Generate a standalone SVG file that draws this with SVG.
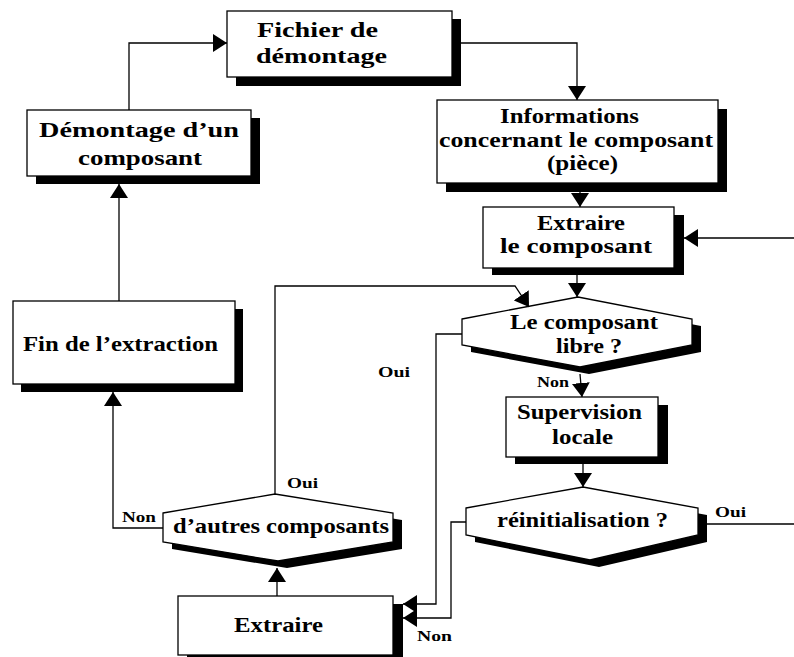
<svg xmlns="http://www.w3.org/2000/svg" width="794" height="657" viewBox="0 0 794 657">
<defs>
<marker id="arr" markerUnits="userSpaceOnUse" markerWidth="15" markerHeight="18" refX="14" refY="9" orient="auto" viewBox="0 0 15 18">
<path d="M0,0 L14,9 L0,18 z" fill="#000"/>
</marker>
</defs>
<style>
.box{fill:#fff;stroke:#000;stroke-width:1.3}
.sh{fill:#000}
.t{font-family:'Liberation Serif','Times New Roman',serif;font-weight:bold;font-size:22px;fill:#000}
.l{font-family:'Liberation Serif','Times New Roman',serif;font-weight:bold;font-size:15px;fill:#000}
.c{fill:none;stroke:#000;stroke-width:1.3}
</style>
<rect width="794" height="657" fill="#fff"/>
<g id="fichier">
<rect class="sh" x="236" y="19" width="225" height="67"/>
<rect class="box" x="227" y="11" width="225" height="66"/>
<text class="t" x="257" y="37" textLength="121" lengthAdjust="spacingAndGlyphs">Fichier de</text>
<text class="t" x="256" y="63" textLength="131" lengthAdjust="spacingAndGlyphs">démontage</text>
</g>

<g id="demontage">
<rect class="sh" x="36" y="118" width="224" height="66"/>
<rect class="box" x="27" y="110" width="224" height="66"/>
<text class="t" x="39" y="137" textLength="200" lengthAdjust="spacingAndGlyphs">Démontage d’un</text>
<text class="t" x="78" y="165" textLength="124" lengthAdjust="spacingAndGlyphs">composant</text>
</g>

<g id="informations">
<rect class="sh" x="446" y="109" width="281" height="83"/>
<rect class="box" x="437" y="100" width="281" height="83"/>
<text class="t" x="500" y="123" textLength="139" lengthAdjust="spacingAndGlyphs">Informations</text>
<text class="t" x="439" y="147" textLength="274" lengthAdjust="spacingAndGlyphs">concernant le composant</text>
<text class="t" x="547" y="170" textLength="71" lengthAdjust="spacingAndGlyphs">(pièce)</text>
</g>

<g id="extraire-composant">
<rect class="sh" x="492" y="215" width="192" height="60"/>
<rect class="box" x="483" y="207" width="191" height="61"/>
<text class="t" x="537" y="230" textLength="88" lengthAdjust="spacingAndGlyphs">Extraire</text>
<text class="t" x="500" y="253" textLength="152" lengthAdjust="spacingAndGlyphs">le composant</text>
</g>

<g id="composant-libre">
<polygon class="sh" points="471,326 587,304 701,326 701,352 589,374 471,352"/>
<polygon class="box" points="462,319 578,297 692,319 692,345 580,367 462,345"/>
<text class="t" x="510" y="329" textLength="148" lengthAdjust="spacingAndGlyphs">Le composant</text>
<text class="t" x="556" y="353" textLength="66" lengthAdjust="spacingAndGlyphs">libre ?</text>
</g>

<g id="supervision">
<rect class="sh" x="515" y="405" width="153" height="59"/>
<rect class="box" x="506" y="397" width="152" height="60"/>
<text class="t" x="517" y="419" textLength="125" lengthAdjust="spacingAndGlyphs">Supervision</text>
<text class="t" x="552" y="444" textLength="61" lengthAdjust="spacingAndGlyphs">locale</text>
</g>

<g id="reinitialisation">
<polygon class="sh" points="475,515 592,494 707,515 707,542 599,567 475,542"/>
<polygon class="box" points="466,508 583,487 698,508 698,535 590,560 466,535"/>
<text class="t" x="497" y="527" textLength="171" lengthAdjust="spacingAndGlyphs">réinitialisation ?</text>
</g>

<g id="fin-extraction">
<rect class="sh" x="21" y="309" width="222" height="83"/>
<rect class="box" x="13" y="301" width="222" height="83"/>
<text class="t" x="23" y="351" textLength="195" lengthAdjust="spacingAndGlyphs">Fin de l’extraction</text>
</g>

<g id="autres-composants">
<polygon class="sh" points="172,520 284,501 402,520 402,549 287,568 172,549"/>
<polygon class="box" points="163,513 275,494 393,513 393,542 278,561 163,542"/>
<text class="t" x="173" y="533" textLength="216" lengthAdjust="spacingAndGlyphs">d’autres composants</text>
</g>

<g id="extraire">
<rect class="sh" x="187" y="604" width="216" height="60"/>
<rect class="box" x="178" y="596" width="215" height="59"/>
<text class="t" x="234" y="632" textLength="89" lengthAdjust="spacingAndGlyphs">Extraire</text>
</g>

<g id="connectors">
<path class="c" d="M129,110 V43 H227" marker-end="url(#arr)"/>
<path class="c" d="M452,43 H577 V100" marker-end="url(#arr)"/>
<path class="c" d="M580,192 V207" marker-end="url(#arr)"/>
<path class="c" d="M794,238 H684" marker-end="url(#arr)"/>
<path class="c" d="M577,275 V297" marker-end="url(#arr)"/>
<path class="c" d="M580,374 L582,397" marker-end="url(#arr)"/>
<path class="c" d="M462,334 H436 V604 H403" marker-end="url(#arr)"/>
<path class="c" d="M583,464 V487" marker-end="url(#arr)"/>
<path class="c" d="M707,524 H794"/>
<path class="c" d="M466,522 H451 V618 H403" marker-end="url(#arr)"/>
<path class="c" d="M277,596 V568" marker-end="url(#arr)"/>
<path class="c" d="M275,494 V286 H515 L529,307" marker-end="url(#arr)"/>
<path class="c" d="M163,528 H113 V392" marker-end="url(#arr)"/>
<path class="c" d="M119,301 V184" marker-end="url(#arr)"/>
<text class="l" x="537" y="387" textLength="32" lengthAdjust="spacingAndGlyphs">Non</text>
<text class="l" x="378" y="377" textLength="32" lengthAdjust="spacingAndGlyphs">Oui</text>
<text class="l" x="715" y="517" textLength="31" lengthAdjust="spacingAndGlyphs">Oui</text>
<text class="l" x="417" y="641" textLength="35" lengthAdjust="spacingAndGlyphs">Non</text>
<text class="l" x="287" y="488" textLength="31" lengthAdjust="spacingAndGlyphs">Oui</text>
<text class="l" x="122" y="522" textLength="34" lengthAdjust="spacingAndGlyphs">Non</text>
</g>
</svg>
